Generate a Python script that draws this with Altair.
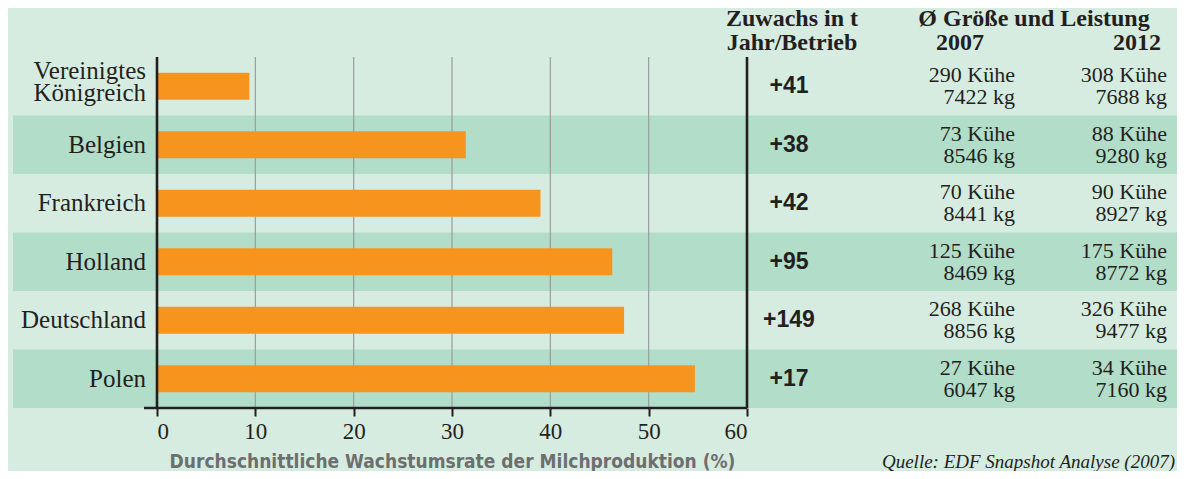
import altair as alt
import pandas as pd

countries = ["Vereinigtes|Königreich", "Belgien", "Frankreich", "Holland", "Deutschland", "Polen"]
growth = [9.4, 31.4, 39.0, 46.3, 47.5, 54.7]
zuwachs = ["+41", "+38", "+42", "+95", "+149", "+17"]
kuehe_2007 = [290, 73, 70, 125, 268, 27]
kg_2007 = [7422, 8546, 8441, 8469, 8856, 6047]
kuehe_2012 = [308, 88, 90, 175, 326, 34]
kg_2012 = [7688, 9280, 8927, 8772, 9477, 7160]
shaded = [False, True, False, True, False, True]
grid_ticks = [10, 20, 30, 40, 50]
frame_ticks = [0, 60]
axis_ticks = [0, 10, 20, 30, 40, 50, 60]

BG = "#d7ece1"
BAND = "#b1ddc9"
BAR = "#f7941e"
INK = "#231f20"
SERIF = "Liberation Serif"

df = pd.DataFrame({
    "country": countries,
    "growth": growth,
    "zuwachs": zuwachs,
    "c2007": [f"{k} Kühe|{g} kg" for k, g in zip(kuehe_2007, kg_2007)],
    "c2012": [f"{k} Kühe|{g} kg" for k, g in zip(kuehe_2012, kg_2012)],
    "shaded": shaded,
    "multi": ["|" in c for c in countries],
})

W, H = 590, 351

xaxis = alt.Axis(values=axis_ticks, grid=False, domain=False, tickSize=8, tickWidth=2,
                 tickColor=INK, labelFont=SERIF, labelFontSize=23, labelColor=INK,
                 labelPadding=4, title="Durchschnittliche Wachstumsrate der Milchproduktion (%)",
                 titleFont="Liberation Sans Narrow, DejaVu Sans Condensed", titleFontSize=19,
                 titleFontWeight="bold", titleColor="#6d6e70", titlePadding=9)
xscale = alt.Scale(domain=[0, 60], nice=False, zero=True)


def X(field):
    return alt.X(field, type="quantitative", scale=xscale, axis=xaxis)


yscale = alt.Scale(domain=countries, paddingInner=0, paddingOuter=0)
Y = alt.Y("country:N", sort=countries, scale=yscale, axis=None)

base = alt.Chart(df)

bands = base.mark_rect(color=BAND).encode(
    y=Y, x=alt.value(-144), x2=alt.value(1021)
).transform_filter("datum.shaded")

grid = alt.Chart(pd.DataFrame({"g": grid_ticks})).mark_rule(color="#9a9c9e", strokeWidth=1.2).encode(
    x=X("g")
)

bars = base.mark_bar(color=BAR, height=27).encode(x=X("growth"), y=Y)

frame = alt.Chart(pd.DataFrame({"f": frame_ticks})).mark_rule(color=INK, strokeWidth=2.6).encode(
    x=X("f")
)

bottom = alt.Chart(pd.DataFrame({"a": [0]})).mark_rule(color=INK, strokeWidth=2.6).encode(
    x=alt.value(-13), x2=alt.value(W), y=alt.value(H)
)

label_style = dict(align="right", baseline="middle", font=SERIF, fontSize=25,
                   color=INK, lineBreak="|", lineHeight=22)
labels1 = base.mark_text(**label_style).encode(
    y=Y, x=alt.value(-11), text="country:N"
).transform_filter("!datum.multi")
labels2 = base.mark_text(dy=-15, **label_style).encode(
    y=Y, x=alt.value(-11), text="country:N"
).transform_filter("datum.multi")

zuw = base.mark_text(align="center", baseline="middle", font="Liberation Sans", fontWeight="bold",
                     fontSize=23, color=INK).encode(y=Y, x=alt.value(632), text="zuwachs:N")

col_style = dict(align="right", baseline="middle", font=SERIF, fontSize=22, color=INK,
                 lineBreak="|", lineHeight=22, dy=-11)
col07 = base.mark_text(**col_style).encode(y=Y, x=alt.value(858), text="c2007:N")
col12 = base.mark_text(**col_style).encode(y=Y, x=alt.value(1010), text="c2012:N")

head_txt = ["Zuwachs in t", "Jahr/Betrieb", "Ø Größe und Leistung", "2007", "2012"]
head_x = [635, 635, 877, 803, 980]
head_y = [-38, -14, -38, -14, -14]
heads = []
for t, hx, hy in zip(head_txt, head_x, head_y):
    heads.append(alt.Chart(pd.DataFrame({"t": [t]})).mark_text(
        align="center", baseline="middle", font=SERIF, fontWeight="bold", fontSize=24, color=INK
    ).encode(text="t:N", x=alt.value(hx), y=alt.value(hy)))

source = alt.Chart(pd.DataFrame({"t": ["Quelle: EDF Snapshot Analyse (2007)"]})).mark_text(
    align="right", baseline="middle", font=SERIF, fontStyle="italic", fontSize=19, color=INK
).encode(text="t:N", x=alt.value(1018), y=alt.value(405))

chart = alt.layer(bands, grid, bars, frame, bottom, labels1, labels2, zuw, col07, col12, *heads,
                  source).properties(
    width=W, height=H,
    autosize=alt.AutoSizeParams(type="none"),
    padding={"left": 149, "top": 49, "right": 430, "bottom": 63},
    background=BG,
).configure_view(stroke=None)

chart.save("out.html", embed_options={"renderer": "svg", "actions": False})
